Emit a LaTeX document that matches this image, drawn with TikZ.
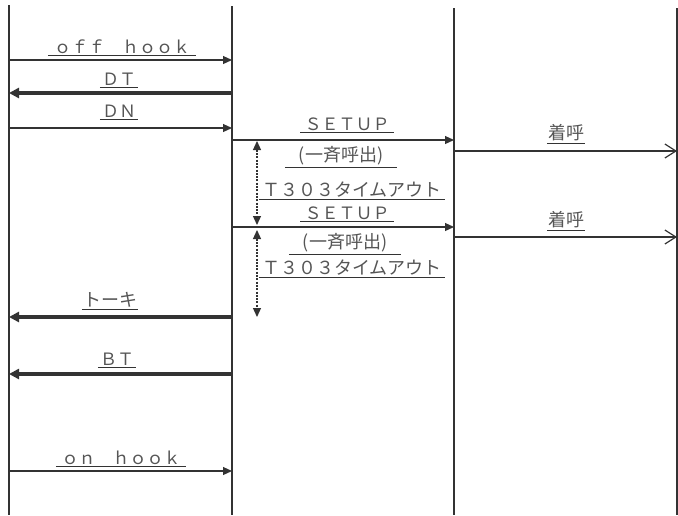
\documentclass[tikz,border=0pt]{standalone}
\usepackage{fontspec}
\newfontfamily\jp{Noto Sans CJK JP}
\usetikzlibrary{arrows.meta}
\definecolor{ln}{HTML}{333333}
\definecolor{tx}{HTML}{555555}
\begin{document}
\begin{tikzpicture}[x=1pt,y=-1pt,
  life/.style={draw=ln,line width=1.6pt},
  msg/.style={draw=ln,line width=1.2pt,-{Triangle[length=9pt,width=8pt]}},
  heavy/.style={draw=ln,line width=3.2pt,-{Triangle[length=10pt,width=10pt]}},
  openmsg/.style={draw=ln,line width=1.2pt,-{Straight Barb[length=11pt,width=14pt,line width=1.2pt]}},
  timer/.style={draw=ln,line width=1.2pt,dash pattern=on 2pt off 1.3pt,{Triangle[length=9pt,width=8pt]}-{Triangle[length=9pt,width=8pt]}},
  lbl/.style={font=\jp\fontsize{17}{17}\selectfont,text=tx,anchor=south,inner xsep=0pt,inner ysep=1.5pt,
    append after command={(\tikzlastnode.south west) edge[draw=ln,line width=0.8pt] (\tikzlastnode.south east)}},
  jlbl/.style={lbl,font=\jp\fontsize{18}{18}\selectfont}]
\useasboundingbox (0,0) rectangle (678,515);
% lifelines
\coordinate (A) at (9,5);
\coordinate (B) at (232,6);
\coordinate (C) at (454,8);
\coordinate (D) at (677,8);
\draw[life] (A) -- (A |- 0,515);
\draw[life] (B) -- (B |- 0,515);
\draw[life] (C) -- (C |- 0,515);
\draw[life] (D) -- (D |- 0,515);
% labels
\node[lbl,minimum width=148pt] (l1) at (122,55) {ｏｆｆ　ｈｏｏｋ};
\node[lbl,minimum width=38pt] (l2) at (119,87) {ＤＴ};
\node[lbl,minimum width=38pt] (l3) at (119,119) {ＤＮ};
\node[lbl,minimum width=93pt] (l4) at (347,132) {ＳＥＴＵＰ};
\node[jlbl,minimum width=112pt] (l5) at (341,167) {(一斉呼出)};
\node[jlbl,minimum width=186pt] (l6) at (352,199) {Ｔ３０３タイムアウト};
\node[lbl,minimum width=93pt] (l7) at (347,221) {ＳＥＴＵＰ};
\node[jlbl,minimum width=112pt] (l8) at (345,254) {(一斉呼出)};
\node[jlbl,minimum width=186pt] (l9) at (352,277) {Ｔ３０３タイムアウト};
\node[jlbl,minimum width=38pt] (l10) at (566,143) {着呼};
\node[jlbl,minimum width=38pt] (l11) at (566,230) {着呼};
\node[jlbl,minimum width=56pt] (l12) at (110,309) {トーキ};
\node[lbl,minimum width=38pt] (l13) at (117,367) {ＢＴ};
\node[lbl,minimum width=130pt] (l14) at (121,466) {ｏｎ　ｈｏｏｋ};
% messages
\draw[msg] (A |- 0,60) -- (B |- 0,60);
\draw[heavy] (B |- 0,93) -- (A |- 0,93);
\draw[msg] (A |- 0,128) -- (B |- 0,128);
\draw[msg] (B |- 0,140) -- (C |- 0,140);
\draw[openmsg] (C |- 0,151) -- (D |- 0,151);
\draw[msg] (B |- 0,227) -- (C |- 0,227);
\draw[openmsg] (C |- 0,237) -- (D |- 0,237);
\draw[heavy] (B |- 0,317) -- (A |- 0,317);
\draw[heavy] (B |- 0,374) -- (A |- 0,374);
\draw[msg] (A |- 0,471) -- (B |- 0,471);
% timers
\coordinate (t1a) at (257,141);
\coordinate (t1b) at (257,225);
\coordinate (t2a) at (257,230);
\coordinate (t2b) at (257,317);
\draw[timer] (t1a) -- (t1b);
\draw[timer] (t2a) -- (t2b);
\end{tikzpicture}
\end{document}
